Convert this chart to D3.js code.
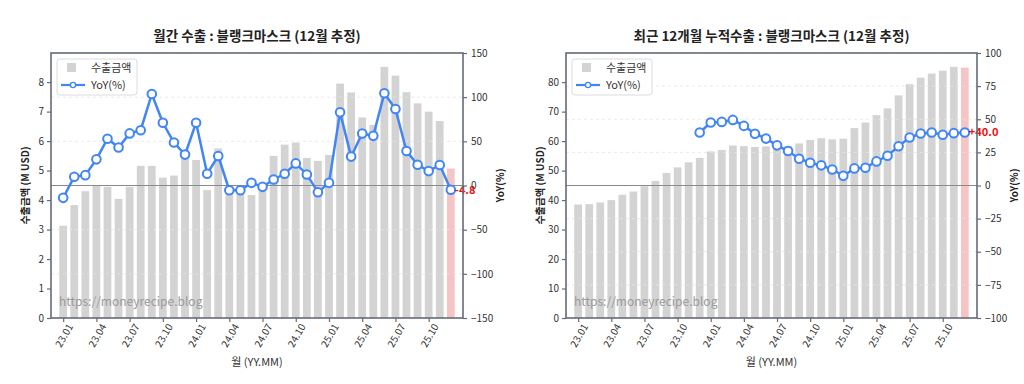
<!DOCTYPE html>
<html>
<head>
<meta charset="utf-8">
<script src="https://cdn.jsdelivr.net/npm/d3@7"></script>
<style>
  body { margin: 0; background: #fff; }
  text { font-family: "Noto Sans CJK KR", "Noto Sans", sans-serif; }
</style>
</head>
<body>
<svg id="chart" width="1024" height="384"></svg>
<script>
// x categories (YY.MM)
var months = ["23.01","23.02","23.03","23.04","23.05","23.06","23.07","23.08","23.09","23.10","23.11","23.12",
              "24.01","24.02","24.03","24.04","24.05","24.06","24.07","24.08","24.09","24.10","24.11","24.12",
              "25.01","25.02","25.03","25.04","25.05","25.06","25.07","25.08","25.09","25.10","25.11","25.12"];
var xTickLabels = ["23.01","23.04","23.07","23.10","24.01","24.04","24.07","24.10","25.01","25.04","25.07","25.10"];

// monthly export (M USD) and YoY (%)
var monthlyExport = [3.13, 3.83, 4.30, 4.49, 4.45, 4.04, 4.45, 5.16, 5.16, 4.76, 4.83, 5.70,
                     5.36, 4.34, 5.75, 4.26, 4.21, 4.17, 4.40, 5.50, 5.88, 5.95, 5.43, 5.33,
                     5.53, 7.95, 7.65, 6.80, 6.55, 8.52, 8.22, 7.66, 7.28, 7.00, 6.68, 5.07];
var monthlyYoY = [-14, 9.9, 11.7, 29.6, 53, 43, 59, 62.6, 103.6, 71, 48.6, 35,
                  71, 13.3, 33.4, -5.3, -5.3, 3.0, -1.5, 6.8, 13.3, 25, 12.5, -7.6,
                  3, 82.8, 32.7, 58.9, 56.2, 104.4, 86.6, 39, 23.5, 16.3, 23.2, -4.8];

// trailing 12-month export (M USD) and YoY (%)
var cumExport = [38.5, 38.6, 39.2, 40.0, 41.8, 42.9, 44.7, 46.5, 49.2, 51.1, 52.8, 54.3,
                 56.5, 57.0, 58.5, 58.3, 58.0, 58.2, 58.1, 58.4, 59.2, 60.4, 61.0, 60.6,
                 60.8, 64.4, 66.3, 68.8, 71.1, 75.5, 79.3, 81.5, 82.9, 83.9, 85.2, 84.9];
var cumYoY = [null, null, null, null, null, null, null, null, null, null, null, 40.0,
              47.5, 48, 49.5, 45, 39.1, 35.4, 30.3, 26, 20.2, 17.2, 15.2, 12.1,
              7.3, 12.9, 13.4, 18.2, 22.4, 29.6, 36.2, 39.2, 40.0, 38.3, 39.5, 40.0];

var monthlyTicks = [0, 1, 2, 3, 4, 5, 6, 7, 8];
var monthlyYoYTicks = [-150, -100, -50, 0, 50, 100, 150];
var cumTicks = [0, 10, 20, 30, 40, 50, 60, 70, 80];
var cumYoYTicks = [-100, -75, -50, -25, 0, 25, 50, 75, 100];

var svg = d3.select("#chart");

var barColor = "#d3d3d3";
var lastBarColor = "#f5c4c4";
var lineColor = "#4285f4";
var spineColor = "#646b78";

function drawPanel (o)
{
    var g = svg.append("g");
    var x = d3.scaleLinear().domain([-1.1, 36.1]).range([o.left, o.right]);
    var yBar = d3.scaleLinear().domain([0, d3.max(o.bars) * 1.055]).range([o.bottom, o.top]);
    var yYoY = d3.scaleLinear().domain([o.yoyTicks[0], o.yoyTicks[o.yoyTicks.length - 1]]).range([o.bottom, o.top]);
    var bw = x(0.7) - x(0);

    // bars
    g.selectAll(".bar").data(o.bars).enter().append("rect")
        .attr("x", (d, i) => x(i) - bw / 2)
        .attr("y", d => yBar(d))
        .attr("width", bw)
        .attr("height", d => o.bottom - yBar(d))
        .attr("fill", (d, i) => i == o.bars.length - 1 ? lastBarColor : barColor);

    // dashed grid from the YoY axis
    g.selectAll(".grid").data(o.yoyTicks).enter().append("line")
        .attr("x1", o.left).attr("x2", o.right)
        .attr("y1", d => yYoY(d)).attr("y2", d => yYoY(d))
        .attr("stroke", "#e4e4e4").attr("stroke-width", 0.8)
        .attr("stroke-dasharray", "3,3");

    // zero line
    g.append("line")
        .attr("x1", o.left).attr("x2", o.right)
        .attr("y1", yYoY(0)).attr("y2", yYoY(0))
        .attr("stroke", "#8a8a8a").attr("stroke-width", 1.1);

    // watermark
    g.append("text")
        .attr("x", o.left + 8).attr("y", o.bottom - 12)
        .attr("font-family", "Noto Sans")
        .attr("font-size", 12).attr("fill", "#9a9a9a")
        .text("https://moneyrecipe.blog");

    // YoY line
    var line = d3.line()
        .defined(d => d != null)
        .x((d, i) => x(i))
        .y(d => yYoY(d));
    g.append("path").datum(o.yoy)
        .attr("d", line)
        .attr("fill", "none").attr("stroke", lineColor).attr("stroke-width", 2.5);
    g.selectAll(".pt").data(o.yoy.map((d, i) => [i, d]).filter(p => p[1] != null)).enter().append("circle")
        .attr("cx", p => x(p[0])).attr("cy", p => yYoY(p[1]))
        .attr("r", 4.3)
        .attr("fill", "#fff").attr("stroke", lineColor).attr("stroke-width", 2);

    // last value label
    var lastV = o.yoy[o.yoy.length - 1];
    g.append("text")
        .attr("x", x(o.yoy.length - 1) + 4).attr("y", yYoY(lastV))
        .attr("dy", "0.35em")
        .attr("font-family", "Noto Sans")
        .attr("font-size", 11).attr("font-weight", "bold").attr("fill", "#f01010")
        .text((lastV >= 0 ? "+" : "") + lastV.toFixed(1));

    // spines
    g.append("rect")
        .attr("x", o.left).attr("y", o.top)
        .attr("width", o.right - o.left).attr("height", o.bottom - o.top)
        .attr("fill", "none").attr("stroke", spineColor).attr("stroke-width", 1.6);

    // axes
    var axL = g.append("g").attr("transform", "translate(" + o.left + ",0)")
        .call(d3.axisLeft(yBar).tickValues(o.barTicks).tickSize(4).tickPadding(3));
    var axR = g.append("g").attr("transform", "translate(" + o.right + ",0)")
        .call(d3.axisRight(yYoY).tickValues(o.yoyTicks).tickSize(4).tickPadding(4));
    var xIdx = xTickLabels.map(l => months.indexOf(l));
    var axB = g.append("g").attr("transform", "translate(0," + o.bottom + ")")
        .call(d3.axisBottom(x).tickValues(xIdx).tickFormat(i => months[i]).tickSize(4).tickPadding(3));
    axB.selectAll("text")
        .attr("text-anchor", "end")
        .attr("dy", "0.2em")
        .attr("transform", "translate(2,4) rotate(-60)");
    [axL, axR, axB].forEach(function (a) {
        a.select(".domain").remove();
        a.selectAll("line").attr("stroke", spineColor).attr("stroke-width", 1.2);
        a.selectAll("text").attr("font-family", "Noto Sans").attr("font-size", 10).attr("fill", "#333");
    });

    // titles and axis labels
    g.append("text")
        .attr("x", (o.left + o.right) / 2).attr("y", 41)
        .attr("text-anchor", "middle")
        .attr("font-size", 13.5).attr("font-weight", "bold").attr("fill", "#222")
        .text(o.title);
    g.append("text")
        .attr("x", (o.left + o.right) / 2).attr("y", 366)
        .attr("text-anchor", "middle")
        .attr("font-size", 11).attr("fill", "#333")
        .text("월 (YY.MM)");
    g.append("text")
        .attr("transform", "translate(" + (o.left - 22) + "," + ((o.top + o.bottom) / 2) + ") rotate(-90)")
        .attr("text-anchor", "middle")
        .attr("font-size", 10).attr("font-weight", "bold").attr("fill", "#222")
        .text("수출금액 (M USD)");
    g.append("text")
        .attr("transform", "translate(" + (o.right + 41) + "," + ((o.top + o.bottom) / 2) + ") rotate(-90)")
        .attr("text-anchor", "middle")
        .attr("font-size", 10).attr("font-weight", "bold").attr("fill", "#222")
        .text("YoY(%)");

    // legend
    var lg = g.append("g").attr("transform", "translate(" + (o.left + 6) + "," + (o.top + 6) + ")");
    lg.append("rect")
        .attr("width", 80).attr("height", 36).attr("rx", 3)
        .attr("fill", "#fff").attr("fill-opacity", 0.85)
        .attr("stroke", "#dcdcdc").attr("stroke-width", 1);
    lg.append("rect")
        .attr("x", 10).attr("y", 4).attr("width", 9).attr("height", 9)
        .attr("fill", barColor);
    lg.append("text").attr("x", 34).attr("y", 9).attr("dy", "0.35em")
        .attr("font-size", 11).attr("fill", "#333").text("수출금액");
    lg.append("line").attr("x1", 4).attr("x2", 28).attr("y1", 26).attr("y2", 26)
        .attr("stroke", lineColor).attr("stroke-width", 2.2);
    lg.append("circle").attr("cx", 16).attr("cy", 26).attr("r", 2.6)
        .attr("fill", "#fff").attr("stroke", lineColor).attr("stroke-width", 1.3);
    lg.append("text").attr("x", 34).attr("y", 26).attr("dy", "0.35em")
        .attr("font-family", "Noto Sans")
        .attr("font-size", 11).attr("fill", "#333").text("YoY(%)");
}

drawPanel({
    left: 51, right: 463, top: 53, bottom: 318,
    title: "월간 수출 : 블랭크마스크 (12월 추정)",
    bars: monthlyExport, yoy: monthlyYoY,
    barTicks: monthlyTicks, yoyTicks: monthlyYoYTicks
});
drawPanel({
    left: 566, right: 977, top: 53, bottom: 318,
    title: "최근 12개월 누적수출 : 블랭크마스크 (12월 추정)",
    bars: cumExport, yoy: cumYoY,
    barTicks: cumTicks, yoyTicks: cumYoYTicks
});
</script>
</body>
</html>
